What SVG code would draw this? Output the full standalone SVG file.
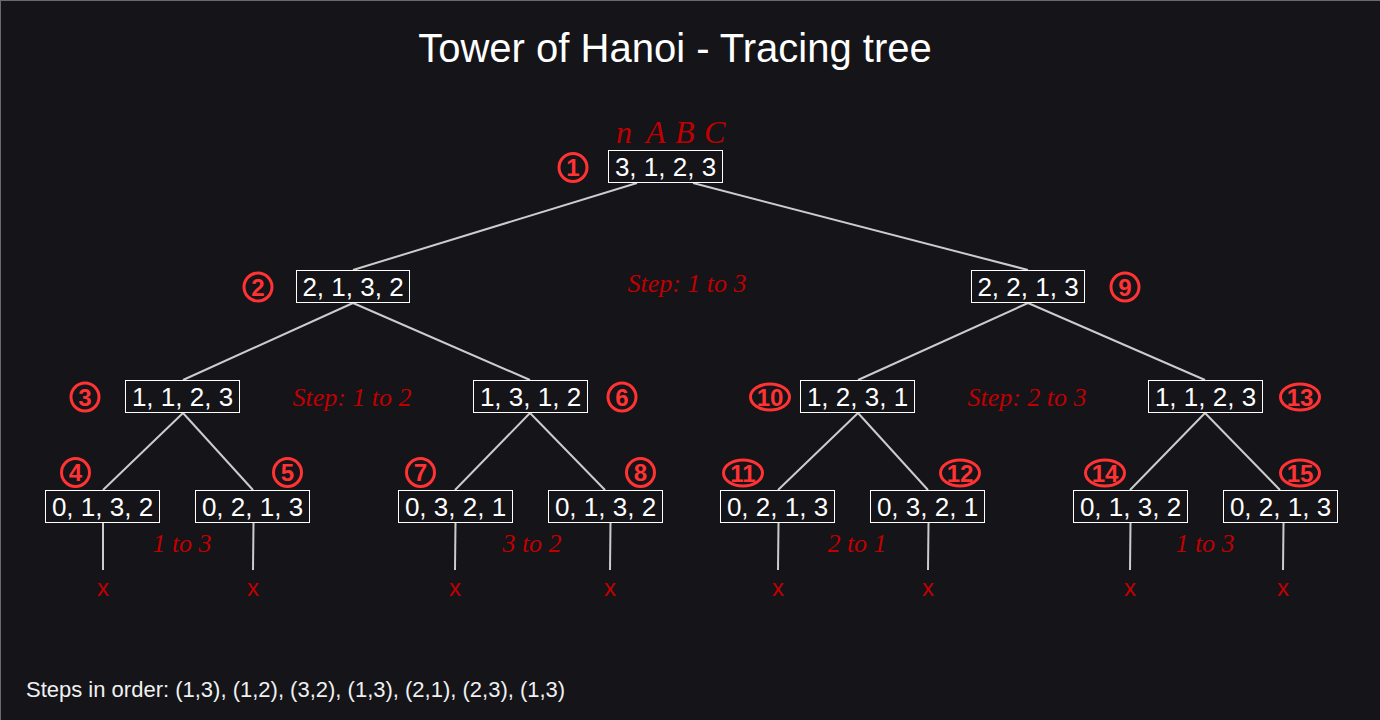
<svg xmlns="http://www.w3.org/2000/svg" width="1380" height="720" viewBox="0 0 1380 720">
<style>
.bg{fill:#141419;stroke:#6a6a6a;stroke-width:2}
.box{fill:none;stroke:#ffffff;stroke-width:1}
.val{font-family:"Liberation Sans",Arial,sans-serif;font-size:26px;fill:#ffffff;text-anchor:middle}
.ring{fill:none;stroke:#ff3333;stroke-width:3}
.num{font-family:"Liberation Sans",Arial,sans-serif;font-weight:bold;font-size:24px;fill:#ff3333;text-anchor:middle}
.step{font-family:"Liberation Serif","Times New Roman",serif;font-style:italic;font-size:26px;fill:#c00000;text-anchor:middle}
.x{font-family:"Liberation Sans",Arial,sans-serif;font-size:24px;fill:#c00000;text-anchor:middle}
.edge{stroke:#cccccc;stroke-width:2;fill:none}
</style>
<rect class="bg" x="0" y="0" width="1381" height="721"/>
<text x="675" y="62" font-family="Liberation Sans,Arial,sans-serif" font-size="40" fill="#ffffff" text-anchor="middle">Tower of Hanoi - Tracing tree</text>
<g id="labels-nabc" font-family="Liberation Serif,Times New Roman,serif" font-style="italic" font-size="32" fill="#c00000">
<text x="616" y="143">n</text>
<text x="646" y="143">A</text>
<text x="675" y="143">B</text>
<text x="704" y="143">C</text>
</g>
<g id="connectors">
<line class="edge" x1="637" y1="183" x2="353" y2="270"/>
<line class="edge" x1="693" y1="183" x2="1028" y2="270"/>
<line class="edge" x1="353" y1="303" x2="183" y2="380"/>
<line class="edge" x1="353" y1="303" x2="530" y2="380"/>
<line class="edge" x1="1028" y1="303" x2="858" y2="380"/>
<line class="edge" x1="1028" y1="303" x2="1205" y2="380"/>
<line class="edge" x1="183" y1="413" x2="103" y2="490"/>
<line class="edge" x1="183" y1="413" x2="253" y2="490"/>
<line class="edge" x1="530" y1="413" x2="455" y2="490"/>
<line class="edge" x1="530" y1="413" x2="605" y2="490"/>
<line class="edge" x1="858" y1="413" x2="778" y2="490"/>
<line class="edge" x1="858" y1="413" x2="928" y2="490"/>
<line class="edge" x1="1205" y1="413" x2="1130" y2="490"/>
<line class="edge" x1="1205" y1="413" x2="1280" y2="490"/>
<line class="edge" x1="103" y1="523" x2="103" y2="570"/>
<line class="edge" x1="253.5" y1="523" x2="253" y2="570"/>
<line class="edge" x1="455.5" y1="523" x2="455" y2="570"/>
<line class="edge" x1="610.5" y1="523" x2="610" y2="570"/>
<line class="edge" x1="778.5" y1="523" x2="778" y2="570"/>
<line class="edge" x1="928.5" y1="523" x2="928" y2="570"/>
<line class="edge" x1="1130.5" y1="523" x2="1130" y2="570"/>
<line class="edge" x1="1283.5" y1="523" x2="1283" y2="570"/>
</g>
<g id="n1"><rect class="box" x="608.5" y="150.5" width="114" height="32"/><text class="val" x="665.5" y="176">3, 1, 2, 3</text><circle class="ring" cx="573" cy="167.5" r="14"/><text class="num" x="573" y="176">1</text></g>
<g id="n2"><rect class="box" x="296.5" y="270.5" width="113" height="32"/><text class="val" x="353" y="296">2, 1, 3, 2</text><circle class="ring" cx="258" cy="287" r="14"/><text class="num" x="258" y="295.5">2</text></g>
<g id="n9"><rect class="box" x="971.5" y="270.5" width="113" height="32"/><text class="val" x="1028" y="296">2, 2, 1, 3</text><circle class="ring" cx="1125" cy="287" r="14"/><text class="num" x="1125" y="295.5">9</text></g>
<g id="n3"><rect class="box" x="125.5" y="380.5" width="114" height="32"/><text class="val" x="182.5" y="406">1, 1, 2, 3</text><circle class="ring" cx="85" cy="397" r="14"/><text class="num" x="85" y="405.5">3</text></g>
<g id="n6"><rect class="box" x="473.5" y="380.5" width="114" height="32"/><text class="val" x="530.5" y="406">1, 3, 1, 2</text><circle class="ring" cx="622" cy="397" r="14"/><text class="num" x="622" y="405.5">6</text></g>
<g id="n10"><rect class="box" x="800.5" y="380.5" width="114" height="32"/><text class="val" x="857.5" y="406">1, 2, 3, 1</text><ellipse class="ring" cx="770" cy="397" rx="19.5" ry="13"/><text class="num" x="770" y="405.5">10</text></g>
<g id="n13"><rect class="box" x="1148.5" y="380.5" width="114" height="32"/><text class="val" x="1205.5" y="406">1, 1, 2, 3</text><ellipse class="ring" cx="1300" cy="397" rx="19.5" ry="13"/><text class="num" x="1300" y="405.5">13</text></g>
<g id="n4"><rect class="box" x="45.5" y="490.5" width="114" height="32"/><text class="val" x="102.5" y="516">0, 1, 3, 2</text><circle class="ring" cx="75.5" cy="472.5" r="14"/><text class="num" x="75.5" y="481">4</text></g>
<g id="n5"><rect class="box" x="195.5" y="490.5" width="114" height="32"/><text class="val" x="252.5" y="516">0, 2, 1, 3</text><circle class="ring" cx="287.5" cy="472.5" r="14"/><text class="num" x="287.5" y="481">5</text></g>
<g id="n7"><rect class="box" x="398.5" y="490.5" width="114" height="32"/><text class="val" x="455.5" y="516">0, 3, 2, 1</text><circle class="ring" cx="420.5" cy="472.5" r="14"/><text class="num" x="420.5" y="481">7</text></g>
<g id="n8"><rect class="box" x="548.5" y="490.5" width="114" height="32"/><text class="val" x="605.5" y="516">0, 1, 3, 2</text><circle class="ring" cx="640.5" cy="472.5" r="14"/><text class="num" x="640.5" y="481">8</text></g>
<g id="n11"><rect class="box" x="720.5" y="490.5" width="114" height="32"/><text class="val" x="777.5" y="516">0, 2, 1, 3</text><ellipse class="ring" cx="743" cy="473" rx="19.5" ry="13"/><text class="num" x="743" y="481.5">11</text></g>
<g id="n12"><rect class="box" x="870.5" y="490.5" width="114" height="32"/><text class="val" x="927.5" y="516">0, 3, 2, 1</text><ellipse class="ring" cx="960" cy="473" rx="19.5" ry="13"/><text class="num" x="960" y="481.5">12</text></g>
<g id="n14"><rect class="box" x="1073.5" y="490.5" width="114" height="32"/><text class="val" x="1130.5" y="516">0, 1, 3, 2</text><ellipse class="ring" cx="1105" cy="473" rx="19.5" ry="13"/><text class="num" x="1105" y="481.5">14</text></g>
<g id="n15"><rect class="box" x="1223.5" y="490.5" width="114" height="32"/><text class="val" x="1280.5" y="516">0, 2, 1, 3</text><ellipse class="ring" cx="1300" cy="473" rx="19.5" ry="13"/><text class="num" x="1300" y="481.5">15</text></g>
<g id="steps">
<text class="step" x="687" y="292">Step: 1 to 3</text>
<text class="step" x="352" y="406">Step: 1 to 2</text>
<text class="step" x="1027" y="406">Step: 2 to 3</text>
<text class="step" x="182" y="552">1 to 3</text>
<text class="step" x="532" y="552">3 to 2</text>
<text class="step" x="857" y="552">2 to 1</text>
<text class="step" x="1205" y="552">1 to 3</text>
</g>
<g id="leaves">
<text class="x" x="103" y="596">x</text>
<text class="x" x="253" y="596">x</text>
<text class="x" x="455" y="596">x</text>
<text class="x" x="610" y="596">x</text>
<text class="x" x="778" y="596">x</text>
<text class="x" x="928" y="596">x</text>
<text class="x" x="1130" y="596">x</text>
<text class="x" x="1283" y="596">x</text>
</g>
<text x="26" y="697" font-family="Liberation Sans,Arial,sans-serif" font-size="22" fill="#f0f0f0">Steps in order: (1,3), (1,2), (3,2), (1,3), (2,1), (2,3), (1,3)</text>
</svg>
